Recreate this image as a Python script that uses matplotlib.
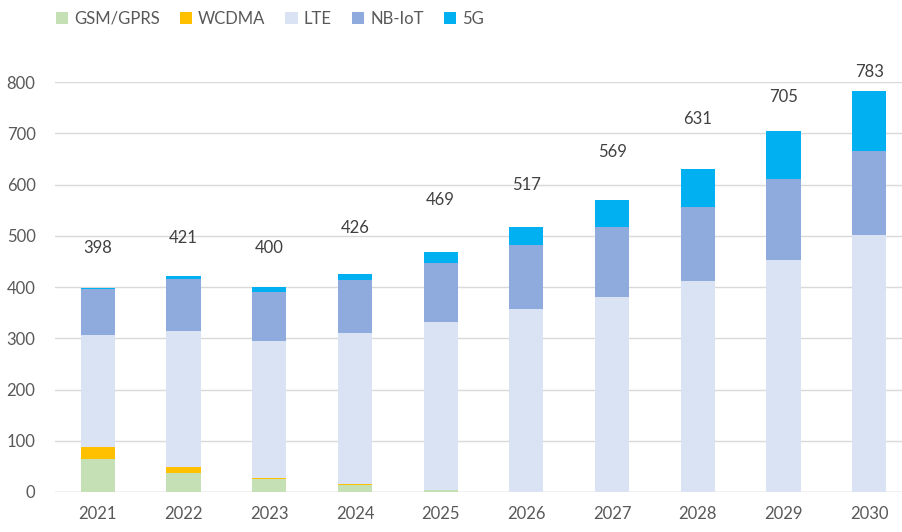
import matplotlib.pyplot as plt
import numpy as np

# --- Data (millions of connections) ---
YEARS = ['2021', '2022', '2023', '2024', '2025', '2026', '2027', '2028', '2029', '2030']
GSM_GPRS = [64, 37, 25, 14, 4, 0, 0, 0, 0, 0]
WCDMA = [24, 12, 3, 2, 0, 0, 0, 0, 0, 0]
LTE = [218, 265, 267, 295, 328, 358, 380, 412, 453, 501]
NB_IOT = [90, 101, 95, 103, 115, 123, 138, 145, 157, 164]
FIVE_G = [2, 6, 10, 12, 22, 36, 51, 74, 95, 118]
TOTALS = [398, 421, 400, 426, 469, 517, 569, 631, 705, 783]

# label heights above the stack (the source placed them by hand)
LABEL_LIFT = [78, 75, 76, 89, 100, 82, 94, 97, 66, 37]

SERIES = [
    ('GSM/GPRS', GSM_GPRS, '#C5E0B4'),
    ('WCDMA', WCDMA, '#FFC000'),
    ('LTE', LTE, '#DAE3F3'),
    ('NB-IoT', NB_IOT, '#8FAADC'),
    ('5G', FIVE_G, '#00B0F0'),
]

TEXT_COLOR = '#595959'
plt.rcParams['font.family'] = ['Lato', 'DejaVu Sans']

fig = plt.figure(figsize=(9.03, 5.32), dpi=100)
ax = fig.add_axes([55 / 903, 40 / 532, 857 / 903, 410 / 532])

x = np.arange(len(YEARS))
bottom = np.zeros(len(YEARS))
for name, values, color in SERIES:
    ax.bar(x, values, width=0.4, bottom=bottom, color=color, label=name, zorder=2)
    bottom += np.array(values)

for xi, total, lift in zip(x, TOTALS, LABEL_LIFT):
    ax.text(xi, total + lift, str(total), ha='center', va='center',
            fontsize=12, color='#404040', clip_on=False)

ax.set_xlim(-0.5, len(YEARS) - 0.5)
ax.set_ylim(0, 800)
ax.set_yticks(range(0, 801, 100))
ax.set_xticks(x)
ax.set_xticklabels(YEARS)
ax.grid(axis='y', color='#D9D9D9', linewidth=1, zorder=0)
ax.tick_params(length=0, labelsize=12, labelcolor=TEXT_COLOR)
ax.tick_params(axis='x', pad=10)
ax.tick_params(axis='y', pad=14)
for spine in ax.spines.values():
    spine.set_visible(False)
ax.axhline(0, color='#D9D9D9', linewidth=1, zorder=1)

fig.legend(loc='upper left', bbox_to_anchor=(0.045, 1.008), ncol=5, frameon=False,
           fontsize=12, labelcolor=TEXT_COLOR, handlelength=0.75, handleheight=0.75,
           handletextpad=0.35, columnspacing=1.2)

fig.savefig('out.png', dpi=100)
